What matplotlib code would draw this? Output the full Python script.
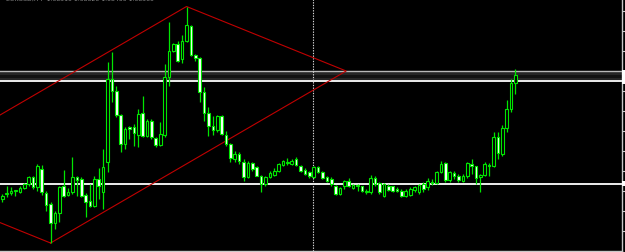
import matplotlib
matplotlib.use("Agg")
import matplotlib.pyplot as plt
from matplotlib.patches import Rectangle
import numpy as np

# ---- data (price units) ----
opens = [53, 58, 59, 61, 60.3, 63.7, 68, 75.3, 64.7, 83, 59, 48, 29, 39, 66.3, 57, 59.7, 74.7, 73, 57,
         51.3, 45.7, 73, 60.3, 90.3, 173, 161.3, 137, 107.7, 125, 125.3, 117, 139, 116.3, 131.3, 114, 107, 117, 175, 201,
         208, 193, 211, 226, 197, 194, 160, 139, 126, 122, 136, 117, 108, 93, 98, 90, 75, 89, 84.7, 76.3,
         68, 74.7, 77.3, 81.3, 87.3, 89, 88, 93, 85.7, 82, 79.7, 74.7, 84.7, 79.7, 74.7, 73, 66.3, 58, 65.7, 71.3,
         63.7, 67, 65.7, 59.7, 59.7, 74, 69, 55.7, 66.3, 65.7, 63, 61.3, 56.3, 57, 62.3, 60.3, 68, 64.7, 70.3, 69,
         80.3, 88.7, 72.3, 79, 76.3, 71.3, 75.7, 88, 85.7, 74.7, 77, 87, 85.7, 114.7, 98, 123.7, 143, 169]
closes = [56.5, 58.5, 61, 61.3, 64.3, 68, 75.3, 65.3, 86.3, 60, 47, 29, 39, 64.7, 56.3, 59.7, 74.7, 72.3, 56.3, 50.3,
          45.7, 73, 65.7, 85, 173, 161.3, 137, 107.7, 123, 123, 119, 138, 116.3, 131.3, 114.7, 107, 118, 175, 201, 208,
          191, 211, 227, 197, 194, 160, 139, 126, 122, 136, 118, 108, 94, 98, 91, 75, 89, 83, 76.3, 68,
          74.7, 78.7, 81.3, 88, 90.7, 90.3, 91.3, 87, 80.7, 78, 76.3, 84.7, 79.7, 74, 71.3, 68, 58, 63.7, 71.3, 66.3,
          67, 65.7, 61.3, 61.3, 74, 68, 59.7, 68, 62.3, 61.3, 61.3, 55.7, 61.3, 63, 64.7, 67, 63, 71.3, 68.7, 80.3,
          88, 72.3, 79.7, 75.7, 72, 76.3, 88.7, 86.3, 73.7, 77, 88, 85.7, 114.7, 99, 123.7, 143, 169, 177]
highs = [58, 66, 65, 61.5, 66.3, 69, 76.3, 76.3, 88, 87, 61.3, 50.3, 41.3, 66.3, 82.3, 63.7, 94.7, 75.7, 74.7, 59,
         68, 76.3, 83.7, 103, 190, 200, 166.3, 138, 124.7, 126.3, 128, 143, 156.3, 133, 133, 115, 130, 188, 230, 209,
         211, 217, 245.5, 227, 198, 195, 165, 145, 136, 137, 137, 121.3, 109, 101, 100, 93, 91, 90.3, 86.3, 77,
         75.7, 80.7, 83.7, 89, 92.3, 93.7, 93, 94.7, 87, 83.7, 81, 86.3, 85.7, 81.3, 76.3, 74.7, 67, 65, 72.3, 73.7,
         68, 68, 66.3, 63, 77.3, 75.7, 69.7, 69, 68, 66.3, 64.7, 63, 63, 64.7, 66.3, 68, 69.7, 73.7, 73, 81.3,
         91.3, 89.7, 81.3, 81, 78, 78, 89.7, 93, 86.3, 78, 89.7, 89, 119.7, 120.3, 127, 152.3, 173, 183]
lows = [50, 55, 57, 55.7, 59, 63, 66.3, 63, 61.3, 57, 41.3, 9, 23, 29.7, 54.7, 56, 58, 56.3, 54.7, 34.7,
        44.7, 44.7, 53, 43, 80, 150, 134.7, 100, 103, 113, 106.3, 105, 115, 114.7, 113, 104.7, 106, 115, 166, 200,
        190, 189, 210, 196, 191, 150, 131, 116, 117, 120, 117, 106.3, 90, 90, 88, 71, 74, 81.3, 75.7, 60,
        65.7, 73.7, 76.3, 79.7, 86.3, 87, 87, 85.7, 79.7, 77, 73.7, 73.7, 79, 73, 70.3, 66.3, 57, 57, 63, 64.7,
        63, 61.3, 59.7, 58, 58, 66.3, 58, 54.7, 61.3, 60, 59.7, 54.7, 54.7, 56.3, 59.7, 58, 60.3, 62.3, 67, 68,
        79, 70.3, 70.3, 73, 70.3, 70.3, 73.7, 78, 68, 59.7, 75.7, 76.3, 84.7, 93, 96.3, 119.7, 140.3, 158]

# horizontal levels and drawing objects
support_level = 68
resistance_level = 171
band_top = 181.3
band_inner = [171.7, 180.7]
channel_x = [11, 78.4, 42, -25.4, 11]
channel_y = [9, 181, 245.5, 73.5, 9]
vline_x = 70.8
right_ticks = [20.7, 40.7, 60.7, 80.7, 100.7, 120.7, 140.7, 160.7, 180.7, 200.7, 220.7, 240.7]

GREEN = '#00e600'

fig = plt.figure(figsize=(6.25, 2.53), dpi=100, facecolor='black')
ax = fig.add_axes([0, 1 / 253, 622 / 625, 252 / 253])
ax.set_facecolor('black')

n = len(opens)
idx = np.arange(n)
o = np.array(opens); c = np.array(closes); h = np.array(highs); l = np.array(lows)

# band at top
ax.axhspan(band_inner[0], band_top, color='#262626', lw=0, zorder=1)
ax.axhspan(band_inner[0] + 2.0, band_inner[1] - 4.0, color='#121212', lw=0, zorder=1)
ax.axhline(band_top, color='#b8b8b8', lw=1.0, zorder=2)
ax.axhline(resistance_level, color='white', lw=1.3, zorder=2)
ax.axhline(support_level, color='white', lw=1.3, zorder=2)

# dotted vertical line
ax.axvline(vline_x, color='#d8d8d8', lw=0.8, ls=(0, (1.2, 1.2)), zorder=2)

# channel
ax.plot(channel_x, channel_y, color='#c00000', lw=0.8, zorder=3)

# candles
ax.vlines(idx, l, h, color=GREEN, lw=0.9, zorder=4)
w = 0.6
for i in range(n):
    bottom = min(o[i], c[i])
    height = max(abs(c[i] - o[i]), 0.8)
    bull = c[i] >= o[i]
    ax.add_patch(Rectangle((i - w / 2, bottom), w, height,
                           facecolor='black' if bull else 'white',
                           edgecolor=GREEN, lw=0.8, zorder=5))

ax.set_xlim(-0.524, 141.29)
ax.set_ylim(1, 253)

for s in ['top', 'left']:
    ax.spines[s].set_visible(False)
for s in ['right', 'bottom']:
    ax.spines[s].set_color('#c8c8c8')
    ax.spines[s].set_linewidth(1.0)
ax.set_xticks([])
ax.yaxis.tick_right()
ax.set_yticks(right_ticks)
ax.set_yticklabels([])
ax.tick_params(axis='y', colors='#c8c8c8', direction='out', length=2.2, width=0.8)

# right-edge price markers
fig.patches.append(Rectangle((622 / 625, 1 - 85 / 253), 3 / 625, 14 / 253,
                             transform=fig.transFigure, facecolor='white', edgecolor='none'))
fig.patches.append(Rectangle((622 / 625, 1 - 187 / 253), 3 / 625, 5 / 253,
                             transform=fig.transFigure, facecolor='white', edgecolor='none'))

# title text at top-left (cut by the top edge as in the original)
fig.text(6 / 625, 1 - 2.0 / 253, 'EURUSD,H4  1.08510 1.08620 1.08450 1.08560',
         color='#909090', fontsize=4.5, va='bottom', ha='left')

fig.savefig('out.png', dpi=100, facecolor='black')
